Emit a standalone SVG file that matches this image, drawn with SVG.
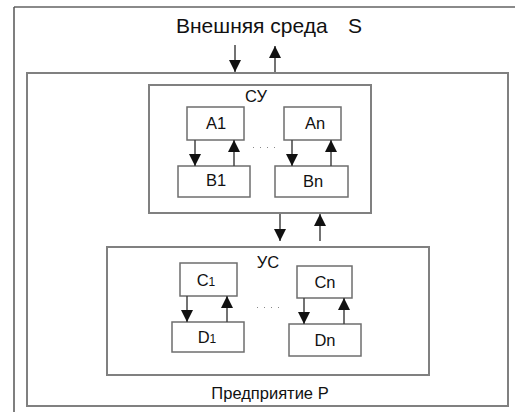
<svg xmlns="http://www.w3.org/2000/svg" width="515" height="412" viewBox="0 0 515 412">
  <style>
    .frame { fill: none; stroke: #808080; stroke-width: 2; }
    .box { fill: #ffffff; stroke: #6e6e6e; stroke-width: 1.5; }
    .link { fill: none; stroke: #444; stroke-width: 1.5; }
    .dots { fill: none; stroke: #888; stroke-width: 1; stroke-dasharray: 1 6; }
    text { font-family: "Liberation Sans", Arial, sans-serif; fill: #111; text-anchor: middle; }
    .title { font-size: 21px; text-anchor: start; }
    .label { font-size: 16.5px; }
    .small { font-size: 12px; }
  </style>
  <defs>
    <marker id="head" viewBox="0 0 12 12" refX="12" refY="6" markerWidth="12" markerHeight="12" markerUnits="userSpaceOnUse" orient="auto">
      <path d="M0,0 L12,6 L0,12 Z" fill="#111"/>
    </marker>
  </defs>

  <rect width="515" height="412" fill="#ffffff"/>

  <!-- page border: top and left edges only -->
  <path d="M14,7 H515" fill="none" stroke="#8a8a8a" stroke-width="2"/>
  <line x1="14" y1="7" x2="14" y2="412" stroke="#555" stroke-width="1.5"/>

  <text class="title" x="176" y="33">Внешняя среда</text>
  <text class="title" x="348" y="33">S</text>

  <g id="enterprise">
    <rect class="frame" x="27" y="73" width="481" height="333"/>
    <text class="label" x="270" y="399">Предприятие P</text>
  </g>

  <g id="su">
    <rect class="frame" x="149" y="85" width="222" height="128"/>
    <text class="label" x="256" y="102">СУ</text>
  </g>
  <g id="a1">
    <rect class="box" x="187" y="107" width="57" height="33"/>
    <text class="label" x="216" y="129">A1</text>
  </g>
  <g id="an">
    <rect class="box" x="284" y="107" width="57" height="33"/>
    <text class="label" x="315" y="129">An</text>
  </g>
  <g id="b1">
    <rect class="box" x="178" y="166" width="72" height="31"/>
    <text class="label" x="216" y="186">B1</text>
  </g>
  <g id="bn">
    <rect class="box" x="275" y="166" width="73" height="31"/>
    <text class="label" x="313" y="187">Bn</text>
  </g>

  <g id="us">
    <rect class="frame" x="107" y="247" width="322" height="128"/>
    <text class="label" x="268" y="268">УС</text>
  </g>
  <g id="c1">
    <rect class="box" x="180" y="263" width="57" height="33"/>
    <text class="label" x="206" y="286">C<tspan class="small">1</tspan></text>
  </g>
  <g id="cn">
    <rect class="box" x="297" y="266" width="55" height="32"/>
    <text class="label" x="325" y="288">Cn</text>
  </g>
  <g id="d1">
    <rect class="box" x="172" y="322" width="72" height="30"/>
    <text class="label" x="207" y="343">D<tspan class="small">1</tspan></text>
  </g>
  <g id="dn">
    <rect class="box" x="289" y="324" width="72" height="32"/>
    <text class="label" x="325" y="346">Dn</text>
  </g>

  <g id="connectors">
    <!-- environment <-> enterprise -->
    <line class="link" x1="235" y1="45" x2="235" y2="72" marker-end="url(#head)"/>
    <line class="link" x1="275" y1="72" x2="275" y2="46" marker-end="url(#head)"/>
    <!-- СУ <-> УС -->
    <line class="link" x1="280" y1="214" x2="280" y2="241" marker-end="url(#head)"/>
    <line class="link" x1="320" y1="241" x2="320" y2="214" marker-end="url(#head)"/>
    <!-- A <-> B -->
    <line class="link" x1="195" y1="140" x2="195" y2="166" marker-end="url(#head)"/>
    <line class="link" x1="234" y1="166" x2="234" y2="140" marker-end="url(#head)"/>
    <line class="link" x1="292" y1="140" x2="292" y2="166" marker-end="url(#head)"/>
    <line class="link" x1="331" y1="166" x2="331" y2="140" marker-end="url(#head)"/>
    <!-- C <-> D -->
    <line class="link" x1="187" y1="296" x2="187" y2="322" marker-end="url(#head)"/>
    <line class="link" x1="227" y1="322" x2="227" y2="296" marker-end="url(#head)"/>
    <line class="link" x1="304" y1="298" x2="304" y2="324" marker-end="url(#head)"/>
    <line class="link" x1="344" y1="324" x2="344" y2="298" marker-end="url(#head)"/>
    <!-- ellipsis between columns -->
    <line class="dots" x1="253" y1="147.5" x2="276" y2="147.5"/>
    <line class="dots" x1="257" y1="307.5" x2="281" y2="307.5"/>
  </g>
</svg>
